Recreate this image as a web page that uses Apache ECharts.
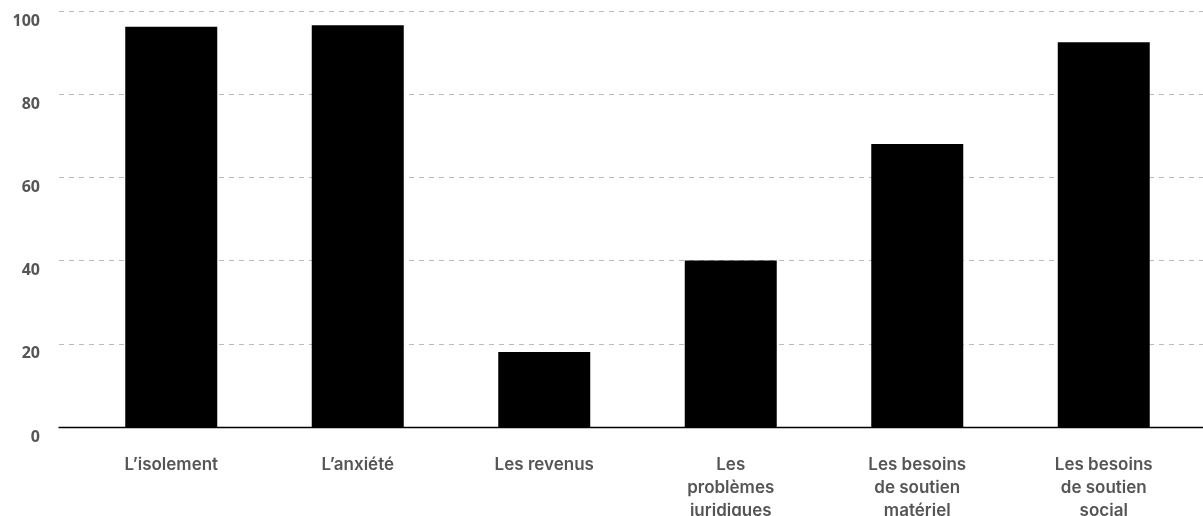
<!DOCTYPE html>
<html>
<head>
<meta charset="utf-8">
<script src="https://cdn.jsdelivr.net/npm/echarts@6/dist/echarts.min.js"></script>
<style>
html,body{margin:0;padding:0;background:#fff;}
#c{width:1203px;height:516px;}
</style>
</head>
<body>
<div id="c"></div>
<script>
const categories = [
  "L\u2019isolement",
  "L\u2019anxi\u00e9t\u00e9",
  "Les revenus",
  "Les\nprobl\u00e8mes\njuridiques",
  "Les besoins\nde soutien\nmat\u00e9riel",
  "Les besoins\nde soutien\nsocial"
];
const values = [96.2, 96.6, 18.0, 40.0, 68.0, 92.5];
const yTicks = [0, 20, 40, 60, 80, 100];

const chart = echarts.init(document.getElementById('c'), null, {renderer: 'canvas'});
const xFont = 'Inter, "Noto Sans", sans-serif';
const yFont = '"Open Sans", "Noto Sans", sans-serif';
chart.setOption({
  animation: false,
  grid: [
    {left: 59, right: 0, top: 11, bottom: 89, containLabel: false, outerBoundsMode: 'none'},
    {left: 78, right: 6, top: 11, bottom: 89, containLabel: false, outerBoundsMode: 'none'}
  ],
  xAxis: [
    {
      type: 'category', gridIndex: 0, data: categories,
      axisLine: {show: true, lineStyle: {color: '#000', width: 1.3}},
      axisTick: {show: false}, axisLabel: {show: false}, splitLine: {show: false}
    },
    {
      type: 'category', gridIndex: 1, data: categories,
      axisLine: {show: false}, axisTick: {show: false},
      axisLabel: {
        show: true, interval: 0, color: '#555', fontFamily: xFont,
        fontSize: 17, fontWeight: 600, lineHeight: 23, margin: 26, align: 'center'
      }
    }
  ],
  yAxis: [
    {
      type: 'value', gridIndex: 0, min: 0, max: 100, interval: 20,
      axisLine: {show: false}, axisTick: {show: false},
      axisLabel: {
        color: '#555', fontFamily: yFont, fontSize: 16, fontWeight: 700,
        margin: 19, verticalAlign: 'top', lineHeight: 20,
        formatter: v => yTicks.indexOf(v) >= 0 ? String(v) : ''
      },
      splitLine: {show: true, lineStyle: {color: '#bbb', type: [5, 5], width: 1}}
    },
    {
      type: 'value', gridIndex: 1, min: 0, max: 100, show: false
    }
  ],
  series: [{
    type: 'bar', xAxisIndex: 1, yAxisIndex: 1,
    data: values, barWidth: 92,
    itemStyle: {color: '#000'}
  }]
});
</script>
</body>
</html>
